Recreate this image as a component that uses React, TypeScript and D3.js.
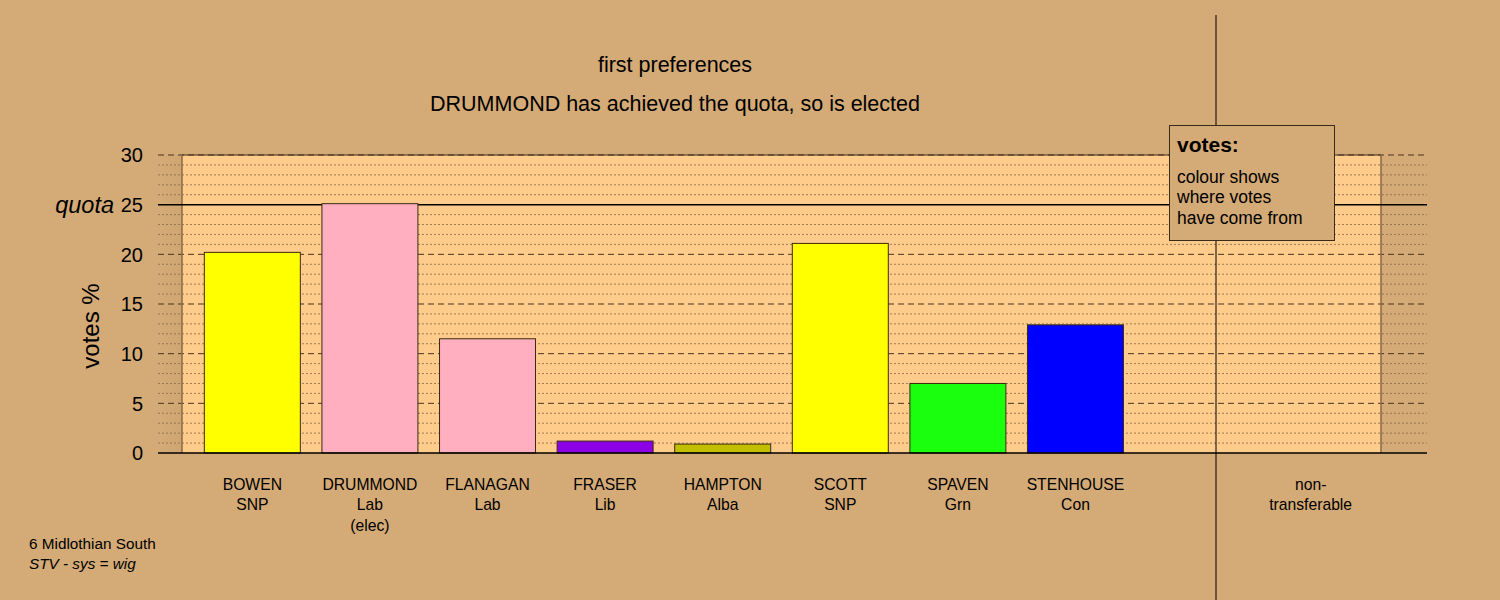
import React from "react";
import * as d3 from "d3";

const candidates = ["BOWEN", "DRUMMOND", "FLANAGAN", "FRASER", "HAMPTON", "SCOTT", "SPAVEN", "STENHOUSE", "", "non-"];
const parties = ["SNP", "Lab", "Lab", "Lib", "Alba", "SNP", "Grn", "Con", "", "transferable"];
const notes = ["", "(elec)", "", "", "", "", "", "", "", ""];
const votes = [20.2, 25.1, 11.5, 1.2, 0.9, 21.1, 7.0, 12.9, 0, 0];
const colors = ["#FFFF00", "#FFAFC0", "#FFAFC0", "#8C00E6", "#C0C000", "#FFFF00", "#1AFF0E", "#0000FF", "none", "none"];
const yTicks = [0, 5, 10, 15, 20, 25, 30];
const quota = 25;

const W = 1500, H = 600;
const BG = "#D4AA76";
const PANEL = "#FFCC8C";

export default function App() {
  const y = d3.scaleLinear().domain([0, 30]).range([453, 155]);
  const x = d3.scaleBand<number>().domain(d3.range(candidates.length)).range([182, 1381]).paddingInner(0.1837).paddingOuter(0.19);
  const gridL = 158, gridR = 1427, panelL = 182, panelR = 1381;
  const minor = d3.range(1, 30).filter((v) => v % 5 !== 0);
  const font = "'Liberation Sans', Arial, sans-serif";
  return (
    <svg width={W} height={H} style={{ display: "block", position: "absolute", left: 0, top: 0 }} fontFamily={font}>
      <defs>
        <linearGradient id="stripL" x1="0" x2="1" y1="0" y2="0">
          <stop offset="0" stopColor="#D4AA76" />
          <stop offset="1" stopColor="#CFA572" />
        </linearGradient>
      </defs>
      <rect width={W} height={H} fill={BG} />
      <rect x={gridL} y={y(30)} width={panelL - gridL} height={y(0) - y(30)} fill="url(#stripL)" />
      <rect x={panelL} y={y(30)} width={panelR - panelL} height={y(0) - y(30)} fill={PANEL} />
      {minor.map((v) => (
        <line key={"m" + v} x1={gridL} x2={gridR} y1={y(v)} y2={y(v)} stroke="#8C7050" strokeWidth={1} strokeDasharray="2,2" opacity={0.85} />
      ))}
      {yTicks.filter((v) => v !== 0 && v !== quota).map((v) => (
        <line key={"M" + v} x1={gridL} x2={gridR} y1={y(v)} y2={y(v)} stroke="#4A3520" strokeWidth={1} strokeDasharray="6,4" />
      ))}
      <line x1={panelL} x2={panelR} y1={y(30)} y2={y(30)} stroke="#3A2A1A" strokeWidth={1} />
      <line x1={panelL} x2={panelL} y1={y(30)} y2={y(0)} stroke="#8A6A48" strokeWidth={1.5} />
      <line x1={panelR} x2={panelR} y1={y(30)} y2={y(0)} stroke="#8A6A48" strokeWidth={1.5} />
      <line x1={gridL} x2={gridR} y1={y(quota)} y2={y(quota)} stroke="#000" strokeWidth={1.5} />
      {votes.map((v, i) =>
        v > 0 ? (
          <rect key={"b" + i} x={x(i)} y={y(v)} width={x.bandwidth()} height={y(0) - y(v)} fill={colors[i]} stroke="#3A2A10" strokeWidth={1} />
        ) : null
      )}
      <line x1={gridL} x2={gridR} y1={y(0)} y2={y(0)} stroke="#000" strokeWidth={1.5} />
      <line x1={1216} x2={1216} y1={15} y2={600} stroke="#000" strokeWidth={1} />
      {yTicks.map((v) => (
        <text key={"t" + v} x={143} y={y(v)} dy="0.36em" textAnchor="end" fontSize={20} fill="#000">{v}</text>
      ))}
      <text x={114} y={y(quota)} dy="0.36em" textAnchor="end" fontSize={23.5} fontStyle="italic" fill="#000">quota</text>
      <text transform={`translate(99,326) rotate(-90)`} textAnchor="middle" fontSize={24} fill="#000">votes %</text>
      <text x={675} y={72} textAnchor="middle" fontSize={21.5} fill="#000">first preferences</text>
      <text x={675} y={111} textAnchor="middle" fontSize={21.5} fill="#000">DRUMMOND has achieved the quota, so is elected</text>
      {candidates.map((c, i) => {
        const cx = (x(i) as number) + x.bandwidth() / 2;
        return (
          <g key={"l" + i}>
            <text x={cx} y={490} textAnchor="middle" fontSize={15.7} fill="#000">{c}</text>
            <text x={cx} y={510} textAnchor="middle" fontSize={15.7} fill="#000">{parties[i]}</text>
            <text x={cx} y={531} textAnchor="middle" fontSize={15.7} fill="#000">{notes[i]}</text>
          </g>
        );
      })}
      <rect x={1169.5} y={125.5} width={165} height={115} fill={BG} stroke="#3A2A1A" strokeWidth={1} />
      <text x={1177} y={152} fontSize={21} fontWeight="bold" fill="#000">votes:</text>
      <text x={1177} y={183} fontSize={17.5} fill="#000">colour shows</text>
      <text x={1177} y={203} fontSize={17.5} fill="#000">where votes</text>
      <text x={1177} y={224} fontSize={17.5} fill="#000">have come from</text>
      <text x={29} y={549} fontSize={15.3} fill="#000">6 Midlothian South</text>
      <text x={29} y={569} fontSize={15.3} fontStyle="italic" fill="#000">STV - sys = wig</text>
    </svg>
  );
}
